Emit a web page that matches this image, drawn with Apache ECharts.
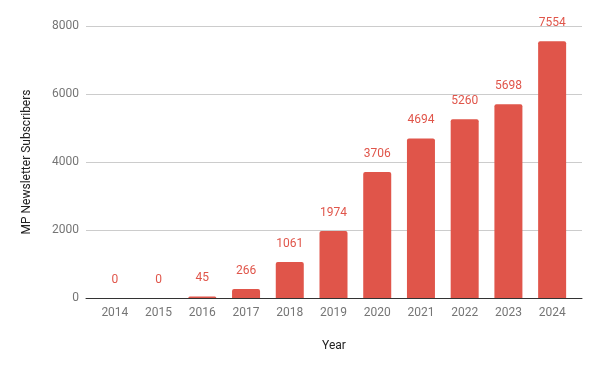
<!DOCTYPE html>
<html><head><meta charset="utf-8">
<script src="https://cdn.jsdelivr.net/npm/echarts@6/dist/echarts.min.js"></script>
<style>html,body{margin:0;padding:0;background:#fff}#c{width:600px;height:371px}</style>
</head><body><div id="c"></div>
<script>
const years = ['2014','2015','2016','2017','2018','2019','2020','2021','2022','2023','2024'];
const subscribers = [0,0,45,266,1061,1974,3706,4694,5260,5698,7554];
const yTicks = [0,2000,4000,6000,8000];

const chart = echarts.init(document.getElementById('c'), null, {renderer:'canvas'});
const font = 'Roboto, sans-serif';
chart.setOption({
  animation:false,
  backgroundColor:'#fff',
  textStyle:{fontFamily:font},
  grid:[
    {left:86,right:18,top:26,bottom:73},
    {left:93,right:26,top:26,bottom:73}
  ],
  xAxis:[
    {gridIndex:0,type:'value',min:0,max:1,show:true,
     axisLine:{show:true,lineStyle:{color:'#333',width:1}},
     axisTick:{show:false},axisLabel:{show:false},splitLine:{show:false},
     name:'Year',nameLocation:'middle',nameGap:42,
     nameTextStyle:{color:'#222',fontSize:12,fontFamily:font}},
    {gridIndex:1,type:'category',data:years,
     axisLine:{show:false},axisTick:{show:false},
     axisLabel:{color:'#757575',fontSize:12,margin:9,fontFamily:font}}
  ],
  yAxis:[
    {gridIndex:0,type:'value',min:yTicks[0],max:yTicks[yTicks.length-1],interval:2000,
     axisLine:{show:false},axisTick:{show:false},
     axisLabel:{color:'#757575',fontSize:12,margin:7,fontFamily:font,formatter:v=>String(v)},
     splitLine:{lineStyle:{color:'#cccccc',width:1}},
     name:'MP Newsletter Subscribers',nameLocation:'middle',nameGap:53,
     nameTextStyle:{color:'#222',fontSize:12,fontFamily:font}},
    {gridIndex:1,type:'value',min:0,max:8000,show:false}
  ],
  series:[{
    type:'bar',xAxisIndex:1,yAxisIndex:1,data:subscribers,
    barWidth:28,
    itemStyle:{color:'#e0554a',borderRadius:[2,2,0,0]},
    label:{show:true,position:'top',distance:12,color:'#e0554a',fontSize:12,fontFamily:font}
  }]
});
</script></body></html>
